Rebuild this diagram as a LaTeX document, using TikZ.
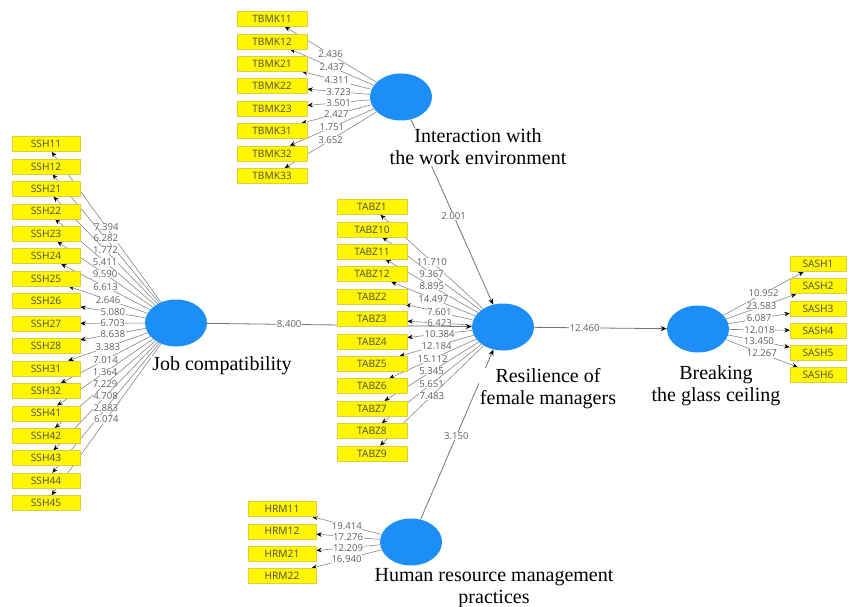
\documentclass[tikz,border=0pt]{standalone}
\usepackage{fontspec}
\setmainfont{Liberation Serif}
\newfontfamily\boxfont{Open Sans}
\usetikzlibrary{arrows.meta,shapes.geometric,backgrounds}
\definecolor{boxyellow}{RGB}{255,246,0}
\definecolor{boxedge}{RGB}{222,206,60}
\definecolor{lvblue}{RGB}{28,142,245}
\definecolor{linegray}{RGB}{135,135,135}
\definecolor{numgray}{RGB}{95,95,95}
\begin{document}
\begin{tikzpicture}[x=1pt,y=-1pt,
  ind/.style={draw=boxedge, fill=boxyellow, line width=0.5pt, minimum width=70pt,
    minimum height=15pt, inner sep=0pt, font=\boxfont\fontsize{10.2}{10}\selectfont, text=black!70},
  lv/.style={ellipse, fill=lvblue, minimum width=62pt, minimum height=47pt, inner sep=0pt},
  load/.style={draw=linegray, line width=0.6pt, -{Stealth[length=5.5pt,width=4.5pt,color=black]}},
  path/.style={draw=linegray!85!black, line width=0.8pt, -{Stealth[length=6pt,width=5pt,color=black]}},
  num/.style={font=\boxfont\fontsize{9.6}{10}\selectfont, text=numgray, fill=white, inner sep=0.5pt},
  cname/.style={font=\fontsize{20}{22}\selectfont, align=center, fill=white, inner sep=1pt}]
\useasboundingbox (0,0) rectangle (848,607);

% latent variables
\node[lv] (tbmk) at (401,97) {};
\node[lv] (jc) at (176,323) {};
\node[lv] (res) at (503,327) {};
\node[lv] (brk) at (698,329) {};
\node[lv] (hrm) at (411,542) {};

% indicators
\foreach \n [count=\i] in {TBMK11,TBMK12,TBMK21,TBMK22,TBMK23,TBMK31,TBMK32,TBMK33}
  \node[ind] (tb\i) at (272,{19+(\i-1)*22.4}) {\n};
\foreach \n [count=\i] in {SSH11,SSH12,SSH21,SSH22,SSH23,SSH24,SSH25,SSH26,SSH27,SSH28,SSH31,SSH32,SSH41,SSH42,SSH43,SSH44,SSH45}
  \node[ind, minimum width=68pt] (ss\i) at (46,{144+(\i-1)*22.44}) {\n};
\foreach \n [count=\i] in {TABZ1,TABZ10,TABZ11,TABZ12,TABZ2,TABZ3,TABZ4,TABZ5,TABZ6,TABZ7,TABZ8,TABZ9}
  \node[ind] (ta\i) at (372,{207+(\i-1)*22.4}) {\n};
\foreach \n [count=\i] in {SASH1,SASH2,SASH3,SASH4,SASH5,SASH6}
  \node[ind, minimum width=56pt] (sa\i) at (818,{264+(\i-1)*22.2}) {\n};
\foreach \n [count=\i] in {HRM11,HRM12,HRM21,HRM22}
  \node[ind, minimum width=68pt] (hr\i) at (282,{509+(\i-1)*22.3}) {\n};

\begin{pgfonlayer}{background}
\fill[white] (0,0) rectangle (848,607);
\foreach \v [count=\i] in {2.436,2.437,4.311,3.723,3.501,2.427,1.751,3.652}
  \draw[load] (tbmk) -- node[num] {\v} (tb\i);
\foreach \v [count=\i] in {7.394,6.282,1.772,5.411,9.590,6.613,2.646,5.080,6.703,8.638,3.383,7.014,1.364,7.229,4.708,2.883,6.074}
  \draw[load] (jc) -- node[num] {\v} (ss\i);
\foreach \v [count=\i] in {11.710,9.367,8.895,14.497,7.601,6.423,10.384,12.184,15.112,5.345,5.651,7.483}
  \draw[load] (res) -- node[num] {\v} (ta\i);
\foreach \v [count=\i] in {10.952,23.583,6.087,12.018,13.450,12.267}
  \draw[load] (brk) -- node[num] {\v} (sa\i);
\foreach \v [count=\i] in {19.414,17.276,12.209,16.940}
  \draw[load] (hrm) -- node[num] {\v} (hr\i);
% structural paths
\draw[path] (tbmk) -- node[num, pos=0.52] {2.001} (res);
\draw[path] (jc) -- node[num, pos=0.31] {8.400} (res);
\draw[path] (res) -- node[num, pos=0.38] {12.460} (brk);
\draw[path] (hrm) -- node[num, pos=0.49] {3.150} (res);
\end{pgfonlayer}

% construct names
\node[cname] (tbmkname) at (478,147) {Interaction with\\the work environment};
\node[cname] (jcname) at (222,366) {Job compatibility};
\node[cname] (resname) at (548,389) {Resilience of\\female managers};
\node[cname] (brkname) at (716,386) {Breaking\\the glass ceiling};
\node[cname] (hrmname) at (494,588) {Human resource management\\practices};
\end{tikzpicture}
\end{document}
